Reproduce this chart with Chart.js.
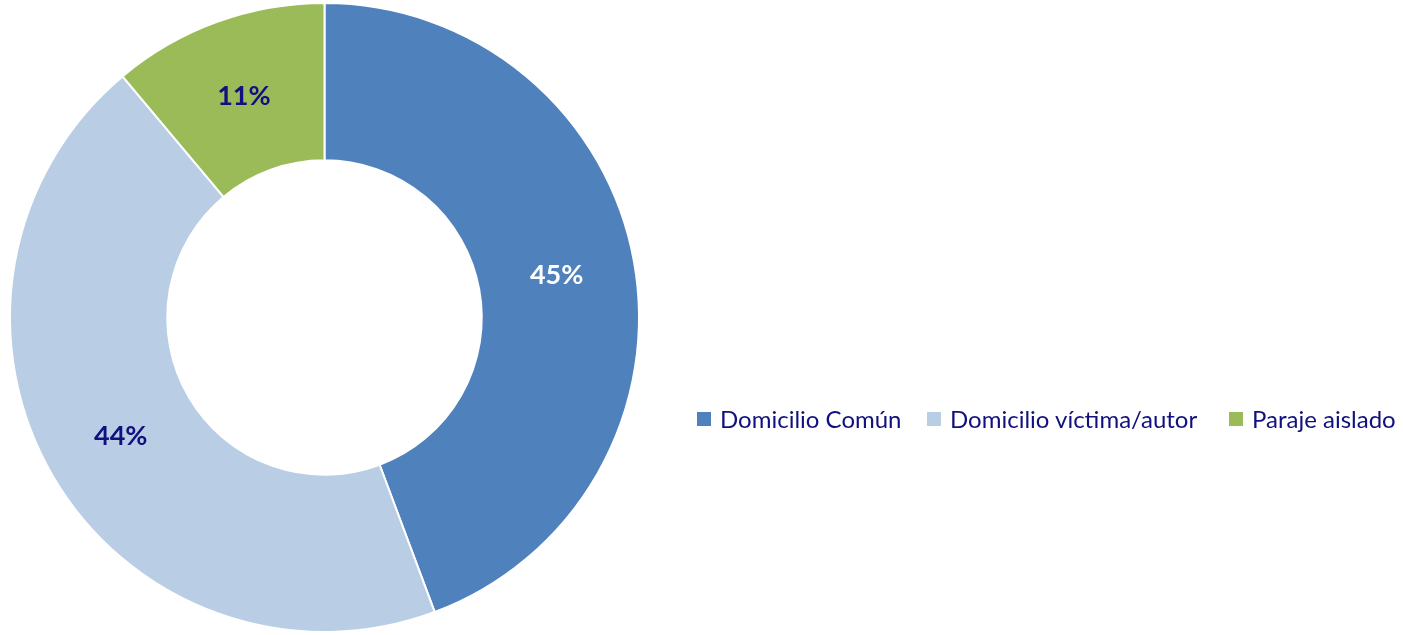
<!DOCTYPE html>
<html>
<head>
<meta charset="utf-8">
<script src="https://cdn.jsdelivr.net/npm/chart.js@4.4.0/dist/chart.umd.min.js"></script>
<style>
  html, body { margin: 0; padding: 0; background: #fff; }
  #wrap { position: relative; width: 1403px; height: 635px; }
  #leyenda { position: absolute; left: 697px; top: 404px; display: flex; align-items: center;
    font-family: Lato, "Open Sans", sans-serif; font-size: 24px; color: #10107f; white-space: nowrap; }
  #leyenda .item { display: flex; align-items: center; }
  #leyenda .caja { width: 14px; height: 14px; margin-right: 9px; }
</style>
</head>
<body>
<div id="wrap">
  <canvas id="myChart" width="1403" height="635"></canvas>
  <div id="leyenda"></div>
</div>
<script>
const categorias = ['Domicilio Común', 'Domicilio víctima/autor', 'Paraje aislado'];
const valores = [44.3, 44.6, 11.1];
const etiquetas = ['45%', '44%', '11%'];
const colores = ['#4f81bd', '#b9cde5', '#9bbb59'];
const coloresTexto = ['#ffffff', '#10107f', '#10107f'];
const anchosLeyenda = [230, 302, 170];

// etiquetas dentro de cada sector
const pluginEtiquetas = {
  id: 'etiquetas',
  afterDatasetsDraw(chart) {
    const ctx = chart.ctx;
    const meta = chart.getDatasetMeta(0);
    ctx.save();
    ctx.font = 'bold 27px Lato, "Open Sans", sans-serif';
    ctx.textAlign = 'center';
    ctx.textBaseline = 'middle';
    meta.data.forEach((arc, i) => {
      const p = arc.getCenterPoint();
      ctx.fillStyle = coloresTexto[i];
      ctx.fillText(etiquetas[i], p.x, p.y);
    });
    ctx.restore();
  }
};

const ctx = document.getElementById('myChart').getContext('2d');
const myChart = new Chart(ctx, {
  type: 'doughnut',
  data: {
    labels: categorias,
    datasets: [{
      data: valores,
      backgroundColor: colores,
      borderColor: '#ffffff',
      borderWidth: 2
    }]
  },
  options: {
    responsive: false,
    animation: false,
    cutout: '50%',
    layout: { padding: { left: 0, right: 754, top: 2, bottom: 2 } },
    plugins: {
      legend: { display: false },
      tooltip: { enabled: false }
    }
  },
  plugins: [pluginEtiquetas]
});

// leyenda en html
let legendHtml = '';
categorias.forEach((c, i) => {
  legendHtml += '<div class="item" style="width:' + anchosLeyenda[i] + 'px"><span class="caja" style="background:' + colores[i] + '"></span>' + c + '</div>';
});
document.getElementById('leyenda').innerHTML = legendHtml;
</script>
</body>
</html>
